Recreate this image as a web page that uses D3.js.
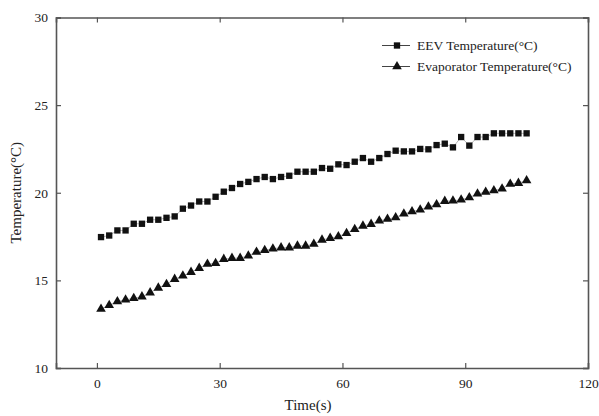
<!DOCTYPE html>
<html>
<head>
<meta charset="utf-8">
<script src="https://cdn.jsdelivr.net/npm/d3@7"></script>
<style>
  body { margin: 0; background: #fff; }
  text { font-family: "Liberation Serif", "Times New Roman", serif; fill: #222; }
</style>
</head>
<body>
<div id="chart"></div>
<script>
var w = 599;
var h = 416;

// time samples (s)
var times = [1, 3, 5, 7, 9, 11, 13, 15, 17, 19, 21, 23, 25, 27, 29, 31, 33, 35, 37, 39, 41,
    43, 45, 47, 49, 51, 53, 55, 57, 59, 61, 63, 65, 67, 69, 71, 73, 75, 77, 79, 81, 83, 85,
    87, 89, 91, 93, 95, 97, 99, 101, 103, 105];

var eevTemp = [17.47, 17.56, 17.85, 17.85, 18.23, 18.23, 18.46, 18.46, 18.57, 18.65,
    19.09, 19.27, 19.5, 19.5, 19.77, 20.06, 20.27, 20.5, 20.62, 20.78, 20.9,
    20.78, 20.9, 20.97, 21.2, 21.2, 21.2, 21.41, 21.37, 21.62, 21.58, 21.77, 21.98, 21.77,
    21.98, 22.21, 22.4, 22.36, 22.36, 22.5, 22.48, 22.72, 22.8,
    22.59, 23.18, 22.69, 23.18, 23.18, 23.39, 23.39, 23.39, 23.39, 23.39];

var evapTemp = [13.37, 13.58, 13.79, 13.89, 13.98, 14.07, 14.3, 14.57, 14.78, 15.07,
    15.26, 15.47, 15.7, 15.93, 15.98, 16.21, 16.27, 16.27, 16.4, 16.62, 16.72,
    16.8, 16.87, 16.87, 16.97, 16.97, 17.07, 17.31, 17.41, 17.5, 17.69, 17.92, 18.11, 18.21,
    18.4, 18.5, 18.59, 18.8, 18.93, 19.03, 19.2, 19.33, 19.52,
    19.54, 19.6, 19.73, 19.94, 20.04, 20.13, 20.23, 20.5, 20.55, 20.7];

var xTicks = [0, 30, 60, 90, 120];
var yTicks = [10, 15, 20, 25, 30];
var seriesNames = ["EEV Temperature(\u00B0C)", "Evaporator Temperature(\u00B0C)"];

var padLeft = 56, padRight = 588, padTop = 17.5, padBottom = 368;

var svg = d3.select("#chart")
    .append("svg")
    .attr("width", w)
    .attr("height", h);

var x = d3.scaleLinear().domain([-10, 120]).range([padLeft, padRight]);
var y = d3.scaleLinear().domain([10, 30]).range([padBottom, padTop]);

var axisColor = "#555";

// axes with inward ticks
var xAxis = svg.append("g")
    .attr("transform", "translate(0," + padBottom + ")")
    .call(d3.axisBottom(x).tickValues(xTicks).tickSize(-5).tickPadding(10));
var yAxis = svg.append("g")
    .attr("transform", "translate(" + padLeft + ",0)")
    .call(d3.axisLeft(y).tickValues(yTicks).tickSize(-5).tickPadding(8));
var xTop = svg.append("g")
    .attr("transform", "translate(0," + padTop + ")")
    .call(d3.axisTop(x).tickValues(xTicks).tickSize(-5).tickFormat(""));
var yRight = svg.append("g")
    .attr("transform", "translate(" + padRight + ",0)")
    .call(d3.axisRight(y).tickValues(yTicks).tickSize(-5).tickFormat(""));

[xAxis, yAxis, xTop, yRight].forEach(function(g) {
    g.select(".domain").attr("stroke", axisColor).attr("stroke-width", 1.6);
    g.selectAll(".tick line").attr("stroke", axisColor).attr("stroke-width", 1.2);
    g.selectAll(".tick text")
        .style("font-family", "'Liberation Serif', serif")
        .style("font-size", "13.5px")
        .attr("fill", "#333");
});

// axis titles
svg.append("text")
    .attr("x", 308)
    .attr("y", 410)
    .attr("text-anchor", "middle")
    .style("font-size", "15px")
    .text("Time(s)");

svg.append("text")
    .attr("transform", "translate(21," + (y(20)) + ") rotate(-90)")
    .attr("text-anchor", "middle")
    .style("font-size", "15px")
    .text("Temperature(\u00B0C)");

var line = d3.line()
    .x(function(d) { return x(d[0]); })
    .y(function(d) { return y(d[1]); });

var eevData = times.map(function(t, i) { return [t, eevTemp[i]]; });
var evapData = times.map(function(t, i) { return [t, evapTemp[i]]; });

var sq = d3.symbol().type(d3.symbolSquare).size(40);
var tri = d3.symbol().type(d3.symbolTriangle).size(40);

function drawSeries(data, sym) {
    svg.append("path")
        .datum(data)
        .attr("d", line)
        .attr("fill", "none")
        .attr("stroke", "#999")
        .attr("stroke-width", 0.7);
    svg.append("g")
        .selectAll("path")
        .data(data)
        .enter().append("path")
        .attr("d", sym)
        .attr("transform", function(d) { return "translate(" + x(d[0]) + "," + y(d[1]) + ")"; })
        .attr("fill", "#111");
}

drawSeries(eevData, sq);
drawSeries(evapData, tri);

// legend
var legend = svg.append("g");
var legendY = [45.5, 66.5];
var syms = [sq, tri];
seriesNames.forEach(function(name, i) {
    legend.append("line")
        .attr("x1", 382).attr("x2", 410)
        .attr("y1", legendY[i]).attr("y2", legendY[i])
        .attr("stroke", "#444").attr("stroke-width", 1);
    legend.append("path")
        .attr("d", syms[i])
        .attr("transform", "translate(397," + legendY[i] + ")")
        .attr("fill", "#111");
    legend.append("text")
        .attr("x", 417)
        .attr("y", legendY[i] + 4.5)
        .style("font-size", "13.5px")
        .text(name);
});
</script>
</body>
</html>
